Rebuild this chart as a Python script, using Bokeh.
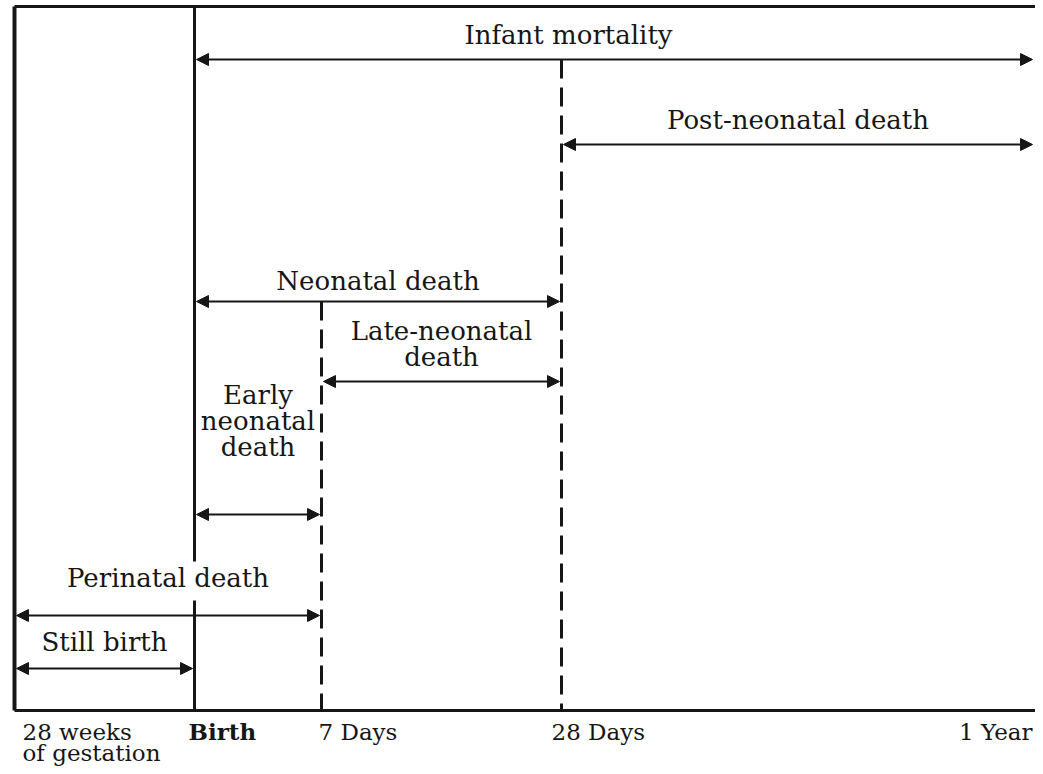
from bokeh.plotting import figure
from bokeh.models import Range1d, Arrow, NormalHead
from bokeh.core.properties import value
from bokeh.embed import file_html
from bokeh.resources import INLINE

# ---- data ----
milestones = ["28 weeks\nof gestation", "Birth", "7 Days", "28 Days", "1 Year"]
milestone_x = [14, 194, 321, 561, 1034]          # schematic time-axis positions
milestone_style = ["solid", "solid", "dashed", "dashed", "none"]

periods = ["Infant mortality", "Post-neonatal death", "Neonatal death",
           "Late-neonatal\ndeath", "Early\nneonatal\ndeath", "Perinatal death", "Still birth"]
period_start = ["Birth", "28 Days", "Birth", "7 Days", "Birth", "28 weeks\nof gestation", "28 weeks\nof gestation"]
period_end = ["1 Year", "1 Year", "28 Days", "28 Days", "7 Days", "7 Days", "Birth"]
period_level = [63, 148, 305, 385, 518, 619, 672]

W, H = 1035, 766
SHIFT = 4
FONT = value("DejaVu Serif")
INK = "#161616"
FS = "26px"

p = figure(width=W, height=H, output_backend="svg", toolbar_location=None,
           x_range=Range1d(0, W), y_range=Range1d(H + SHIFT, SHIFT),
           x_axis_location=None, y_axis_location=None, min_border=0)
p.outline_line_color = None
p.xgrid.visible = False
p.ygrid.visible = False

xpos = dict(zip(milestones, milestone_x))
top_y, base_y = 10, 714

# frame: top and bottom rules
p.segment(x0=[milestone_x[0]], y0=[top_y], x1=[W], y1=[top_y], line_color=INK, line_width=3)
p.segment(x0=[milestone_x[0]], y0=[base_y], x1=[W], y1=[base_y], line_color=INK, line_width=3)

# vertical milestone lines (the Birth line is interrupted by the "Perinatal death" label)
line_top = {"28 weeks\nof gestation": top_y, "Birth": top_y,
            "7 Days": period_level[2], "28 Days": period_level[0]}
gaps = {"Birth": (565, 604)}
for name, x, style in zip(milestones, milestone_x, milestone_style):
    if style == "none":
        continue
    lw = 4 if name == milestones[0] else 3
    dash = "solid" if style == "solid" else "19 9"
    if name in gaps:
        g0, g1 = gaps[name]
        p.segment(x0=[x, x], y0=[line_top[name], g1], x1=[x, x], y1=[g0, base_y],
                  line_color=INK, line_width=lw, line_dash=dash)
    else:
        p.segment(x0=[x], y0=[line_top[name]], x1=[x], y1=[base_y], line_color=INK,
                  line_width=lw, line_dash=dash)

# arrows
for name, s, e, lv in zip(periods, period_start, period_end, period_level):
    x0, x1 = xpos[s], xpos[e]
    p.add_layout(Arrow(x_start=x0 + 2, y_start=lv, x_end=x1 - 2, y_end=lv,
                       line_color=INK, line_width=2,
                       start=NormalHead(size=12, fill_color=INK, line_color=INK),
                       end=NormalHead(size=12, fill_color=INK, line_color=INK)))

# period labels
label_cx = {"Infant mortality": 568}
label_gap = {"Infant mortality": 25, "Post-neonatal death": 25, "Neonatal death": 21,
             "Late-neonatal\ndeath": 25, "Early\nneonatal\ndeath": 68,
             "Perinatal death": 38, "Still birth": 27}
line_h = 26
for name, s, e, lv in zip(periods, period_start, period_end, period_level):
    cx = label_cx.get(name, (xpos[s] + xpos[e]) / 2)
    lines = name.split("\n")
    n = len(lines)
    ys = [lv - label_gap[name] - (n - 1 - i) * line_h for i in range(n)]
    p.text(x=[cx] * n, y=ys, text=lines, text_align="center", text_baseline="middle",
           text_font=FONT, text_font_size=FS, text_color=INK)

# milestone labels under the axis
lab_x = [22, 188, 318, 551, 1032]
lab_align = ["left", "left", "left", "left", "right"]
for name, lx, al in zip(milestones, lab_x, lab_align):
    lines = name.split("\n")
    ys = [735 + 21 * i for i in range(len(lines))]
    p.text(x=[lx] * len(lines), y=ys, text=lines, text_align=al, text_baseline="middle",
           text_font=FONT, text_font_size="23px", text_color=INK,
           text_font_style="bold" if name == "Birth" else "normal")

open("out.html", "w").write(file_html(p, INLINE))
